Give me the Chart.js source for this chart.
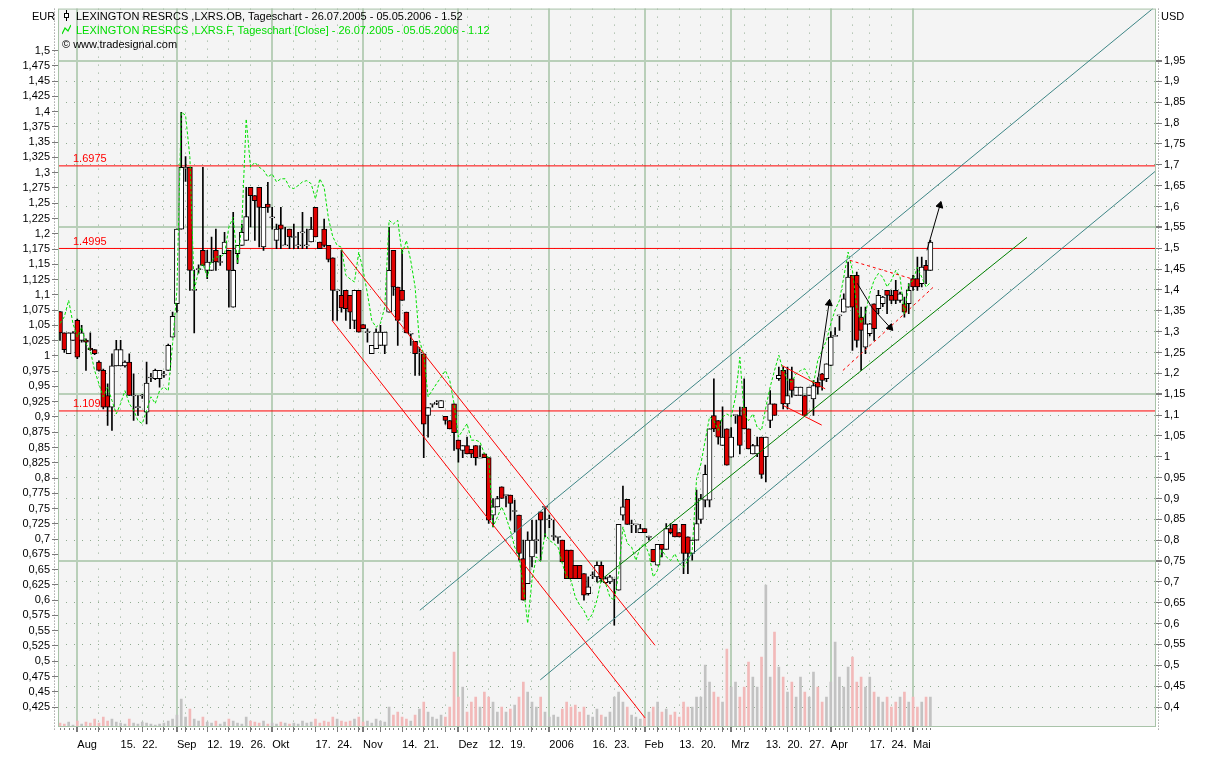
<!DOCTYPE html>
<html>
<head>
<meta charset="utf-8">
<title>LXRS Tageschart</title>
<script src="https://cdn.jsdelivr.net/npm/chart.js@4.4.1/dist/chart.umd.min.js"></script>
<style>
html,body{margin:0;padding:0;background:#fff;}
#box{position:relative;width:1215px;height:760px;overflow:hidden;font:11px "Liberation Sans",Arial,sans-serif;color:#000;}
#c{position:absolute;left:0;top:0;}
.t{position:absolute;white-space:nowrap;line-height:14px;}
.t svg{vertical-align:-1px;margin-right:5px;}
</style>
</head>
<body>
<div id="box">
<canvas id="c" width="1215" height="760"></canvas>
<div class="t" style="left:32px;top:9px">EUR</div>
<div class="t" style="left:1161px;top:9px">USD</div>
<div class="t" style="left:62px;top:9px"><svg width="9" height="11"><line x1="4.5" y1="0" x2="4.5" y2="11" stroke="#000"/><rect x="2.5" y="3.5" width="4" height="4" fill="#fff" stroke="#000"/></svg>LEXINGTON RESRCS ,LXRS.OB, Tageschart - 26.07.2005 - 05.05.2006 - 1.52</div>
<div class="t" style="left:62px;top:23px;color:#00dd00"><svg width="9" height="11"><polyline points="0,10 3,4 6,7 9,1" fill="none" stroke="#00dd00" stroke-width="1.2"/></svg>LEXINGTON RESRCS ,LXRS.F, Tageschart [Close] - 26.07.2005 - 05.05.2006 - 1.12</div>
<div class="t" style="left:62px;top:37px">&copy; www.tradesignal.com</div>
</div>
<script>
const startDate='2005-07-26', endDate='2006-05-05';
const holidays=['2005-12-26','2006-04-14'];

const tickDates=['2005-08-01','2005-08-15','2005-08-22','2005-09-01','2005-09-12','2005-09-19','2005-09-26','2005-10-03','2005-10-17','2005-10-24','2005-11-01','2005-11-14','2005-11-21','2005-12-01','2005-12-12','2005-12-19','2006-01-02','2006-01-16','2006-01-23','2006-02-01','2006-02-13','2006-02-20','2006-03-01','2006-03-13','2006-03-20','2006-03-27','2006-04-03','2006-04-17','2006-04-24','2006-05-01'];
const tickLabels=['Aug','15.','22.','Sep','12.','19.','26.','Okt','17.','24.','Nov','14.','21.','Dez','12.','19.','2006','16.','23.','Feb','13.','20.','Mrz','13.','20.','27.','Apr','17.','24.','Mai'];

// LXRS.OB daily candles, USD
const open=[1.348,1.297,1.247,1.279,1.327,1.279,1.280,1.260,1.257,1.227,
1.207,1.147,1.119,1.218,1.218,1.218,1.227,1.147,1.119,1.147,
1.107,1.190,1.187,1.187,1.197,1.207,1.287,1.367,1.546,1.690,
1.694,1.400,1.450,1.495,1.447,1.447,1.495,1.467,1.487,1.495,
1.359,1.487,1.507,1.519,1.646,1.626,1.646,1.503,1.606,1.574,
1.519,1.556,1.507,1.546,1.527,1.507,1.538,1.507,1.515,1.598,
1.515,1.546,1.507,1.477,1.399,1.387,1.399,1.387,1.327,1.399,
1.317,1.299,1.247,1.259,1.267,1.267,1.347,1.495,1.407,1.399,
1.347,1.295,1.277,1.250,1.247,1.099,1.127,1.130,1.118,1.097,
1.087,1.127,1.040,1.015,1.027,1.018,1.027,0.998,1.007,0.998,
0.860,0.880,0.928,0.908,0.908,0.870,0.860,0.756,0.696,0.760,
0.800,0.868,0.880,0.850,0.810,0.808,0.800,0.776,0.776,0.740,
0.740,0.720,0.672,0.716,0.712,0.740,0.698,0.700,0.708,0.680,
0.860,0.898,0.838,0.838,0.818,0.828,0.808,0.778,0.740,0.790,
0.778,0.828,0.838,0.818,0.838,0.808,0.768,0.800,0.850,0.896,
0.896,1.099,1.087,1.027,1.067,0.999,1.100,1.099,1.119,1.067,
1.007,1.007,1.047,1.000,1.087,1.127,1.187,1.207,1.127,1.187,
1.147,1.147,1.147,1.147,1.139,1.179,1.199,1.187,1.219,1.290,
1.339,1.347,1.359,1.435,1.435,1.335,1.263,1.295,1.367,1.355,
1.367,1.399,1.387,1.399,1.375,1.367,1.367,1.427,1.427,1.415,
1.459,1.447];
const high=[1.348,1.297,1.297,1.300,1.330,1.315,1.283,1.297,1.257,1.230,
1.210,1.175,1.247,1.279,1.279,1.230,1.247,1.199,1.147,1.150,
1.227,1.200,1.210,1.207,1.205,1.270,1.347,1.546,1.826,1.720,
1.694,1.447,1.460,1.694,1.495,1.527,1.546,1.483,1.538,1.495,
1.586,1.507,1.558,1.646,1.646,1.626,1.646,1.598,1.658,1.598,
1.558,1.598,1.550,1.546,1.558,1.538,1.586,1.546,1.574,1.598,
1.515,1.570,1.507,1.477,1.399,1.495,1.399,1.387,1.399,1.399,
1.317,1.307,1.267,1.307,1.315,1.299,1.550,1.495,1.407,1.495,
1.347,1.295,1.277,1.262,1.247,1.118,1.127,1.135,1.135,1.097,
1.087,1.127,1.040,1.027,1.047,1.018,1.027,1.027,1.007,0.998,
0.900,0.905,0.928,0.908,0.908,0.896,0.860,0.800,0.820,0.848,
0.848,0.868,0.880,0.860,0.848,0.808,0.800,0.776,0.776,0.740,
0.740,0.720,0.712,0.724,0.748,0.748,0.712,0.716,0.708,0.838,
0.930,0.898,0.848,0.838,0.838,0.828,0.810,0.778,0.790,0.790,
0.840,0.840,0.838,0.818,0.838,0.808,0.800,0.920,0.910,0.980,
1.067,1.187,1.087,1.120,1.067,1.070,1.100,1.119,1.187,1.067,
1.030,1.047,1.047,1.047,1.159,1.127,1.215,1.215,1.215,1.215,
1.167,1.167,1.147,1.167,1.183,1.190,1.200,1.223,1.300,1.310,
1.339,1.391,1.467,1.435,1.443,1.359,1.359,1.320,1.367,1.399,
1.385,1.399,1.399,1.423,1.395,1.383,1.415,1.435,1.479,1.479,
1.471,1.519];
const low=[1.279,1.250,1.247,1.279,1.235,1.275,1.207,1.255,1.245,1.205,
1.115,1.075,1.063,1.218,1.218,1.215,1.147,1.087,1.099,1.140,
1.079,1.180,1.185,1.167,1.190,1.207,1.287,1.347,1.546,1.660,
1.399,1.297,1.440,1.459,1.427,1.447,1.447,1.459,1.487,1.359,
1.359,1.463,1.507,1.519,1.551,1.519,1.503,1.495,1.586,1.546,
1.499,1.499,1.507,1.499,1.499,1.499,1.499,1.499,1.515,1.527,
1.499,1.503,1.467,1.327,1.327,1.347,1.327,1.307,1.307,1.299,
1.307,1.275,1.247,1.259,1.267,1.247,1.347,1.387,1.267,1.375,
1.297,1.267,1.195,1.195,0.998,1.047,1.119,1.125,1.118,1.078,
1.067,1.015,0.987,0.998,1.007,0.998,0.980,0.998,0.998,0.840,
0.832,0.880,0.900,0.880,0.848,0.820,0.752,0.656,0.696,0.736,
0.768,0.752,0.808,0.830,0.800,0.792,0.748,0.708,0.708,0.708,
0.708,0.656,0.668,0.708,0.700,0.700,0.696,0.696,0.596,0.680,
0.848,0.838,0.818,0.818,0.818,0.818,0.800,0.748,0.740,0.760,
0.778,0.815,0.808,0.808,0.720,0.720,0.752,0.800,0.840,0.880,
0.880,1.060,1.030,1.027,0.980,0.999,1.080,1.007,1.067,1.019,
1.007,1.000,0.948,0.940,1.070,1.099,1.183,1.115,1.115,1.143,
1.147,1.147,1.099,1.147,1.099,1.150,1.160,1.180,1.219,1.290,
1.303,1.347,1.359,1.255,1.263,1.207,1.247,1.290,1.279,1.343,
1.360,1.343,1.367,1.367,1.370,1.335,1.343,1.399,1.399,1.407,
1.415,1.447];
const close=[1.297,1.257,1.297,1.297,1.239,1.297,1.275,1.257,1.247,1.207,
1.119,1.119,1.218,1.257,1.257,1.227,1.147,1.147,1.119,1.147,
1.177,1.190,1.207,1.207,1.197,1.267,1.337,1.546,1.694,1.694,
1.447,1.400,1.450,1.459,1.467,1.467,1.467,1.467,1.515,1.447,
1.447,1.507,1.538,1.576,1.626,1.614,1.598,1.598,1.598,1.574,
1.546,1.546,1.507,1.527,1.527,1.507,1.538,1.507,1.546,1.527,
1.499,1.507,1.473,1.399,1.399,1.357,1.355,1.347,1.399,1.299,
1.307,1.299,1.267,1.299,1.299,1.299,1.447,1.407,1.327,1.375,
1.297,1.295,1.247,1.250,1.078,1.118,1.127,1.130,1.135,1.087,
1.067,1.058,1.018,1.027,1.007,1.007,0.998,0.998,0.998,0.848,
0.880,0.900,0.900,0.908,0.888,0.870,0.768,0.656,0.800,0.800,
0.800,0.848,0.880,0.850,0.810,0.808,0.748,0.708,0.708,0.708,
0.708,0.668,0.688,0.716,0.740,0.708,0.708,0.712,0.708,0.838,
0.880,0.838,0.838,0.838,0.828,0.818,0.808,0.748,0.790,0.778,
0.828,0.818,0.808,0.808,0.768,0.768,0.800,0.840,0.900,0.958,
1.067,1.067,1.047,1.047,0.980,1.047,1.100,1.027,1.067,1.019,
1.027,1.027,0.958,1.047,1.127,1.099,1.195,1.127,1.147,1.159,
1.167,1.167,1.099,1.167,1.171,1.167,1.183,1.223,1.287,1.290,
1.339,1.379,1.431,1.359,1.279,1.303,1.319,1.319,1.307,1.387,
1.383,1.387,1.375,1.375,1.391,1.347,1.399,1.407,1.407,1.455,
1.447,1.515];
// LXRS.F close, EUR
const closeF=[1.053,1.064,1.091,1.053,1.031,1.047,1.020,1.009,0.976,0.954,
0.933,0.949,0.927,0.905,0.922,0.943,0.922,0.911,0.894,0.889,
0.911,0.933,0.922,0.943,0.949,0.943,1.020,1.107,1.399,1.394,
1.325,1.107,1.140,1.151,1.129,1.156,1.162,1.162,1.167,1.211,
1.227,1.151,1.216,1.388,1.309,1.317,1.309,1.304,1.293,1.298,
1.285,1.290,1.290,1.276,1.274,1.279,1.285,1.287,1.282,1.257,
1.290,1.276,1.225,1.195,1.181,1.178,1.132,1.126,1.121,1.170,
1.140,1.102,1.058,1.047,1.053,1.080,1.222,1.216,1.222,1.167,
1.189,1.156,1.113,1.025,1.003,0.933,0.944,0.955,0.965,0.976,
0.960,0.922,0.867,0.878,0.889,0.862,0.862,0.859,0.840,0.833,
0.720,0.736,0.753,0.736,0.714,0.687,0.671,0.622,0.562,0.633,
0.671,0.663,0.709,0.698,0.693,0.687,0.660,0.638,0.633,0.605,
0.592,0.583,0.567,0.578,0.600,0.633,0.627,0.605,0.600,0.643,
0.720,0.693,0.687,0.665,0.687,0.693,0.676,0.638,0.649,0.682,
0.671,0.665,0.676,0.660,0.654,0.665,0.682,0.799,0.823,0.862,
0.900,0.894,0.878,0.900,0.905,0.900,0.933,0.998,0.905,0.894,
0.905,0.883,0.878,0.916,0.949,0.976,1.001,0.976,0.960,0.957,
0.971,0.976,0.979,0.965,0.954,0.993,1.009,1.025,1.053,1.075,
1.091,1.129,1.170,1.140,1.080,1.053,1.069,1.102,1.124,1.135,
1.129,1.113,1.124,1.140,1.129,1.069,1.118,1.124,1.145,1.129,
1.113,1.120];
// volume (thousand shares)
const volume=[4,3,5,2,6,3,5,4,8,4,
10,6,8,5,4,3,8,4,3,5,
4,3,2,3,4,6,8,12,28,10,
18,8,6,10,5,4,6,3,5,8,
6,4,3,10,6,5,4,6,3,4,
3,5,4,3,4,3,6,4,5,8,
4,6,5,10,8,6,5,6,8,10,
5,6,4,8,6,5,20,12,15,10,
8,6,12,18,25,15,10,8,12,10,
20,75,30,40,15,25,30,20,35,30,
25,15,20,15,18,22,30,45,35,25,
20,30,15,10,12,10,18,25,20,22,
15,20,12,10,18,12,10,15,30,35,
25,20,12,10,8,10,15,20,25,15,
18,12,15,10,25,20,20,30,30,62,
45,35,30,25,78,40,45,30,40,65,
50,40,70,142,50,95,60,50,35,45,
30,50,35,30,55,40,25,30,45,85,
50,40,60,70,45,50,40,50,35,30,
25,30,20,25,30,35,25,30,20,25,
30,30];

const levels=[1.6975,1.4995,1.1099];
const levelLabels=['1.6975','1.4995','1.1099'];
const usdMajor=[0.75,1.15,1.55,1.95];

// drawn trend lines: [trading-day index, USD]
const redChannel=[[[65.1,1.495],[137.4,0.548]],[[62.8,1.327],[135.1,0.374]]];
const tealChannel=[[[83.1,0.632],[252.4,2.075]],[[110.9,0.465],[253.1,1.686]]];
const greenMid=[[124.0,0.697],[223.3,1.526]];
const redFlag=[[[166.7,1.219],[176.7,1.163]],[[167.0,1.123],[175.9,1.076]]];
const redTriangle=[[[182.4,1.471],[196.3,1.428]],[[180.8,1.207],[201.6,1.406]]];
const arrows=[[[175.1,1.191],[177.6,1.368]],[[184.1,1.416],[187.5,1.358],[191.7,1.310]],[[200.2,1.495],[203.2,1.603]]];
const arrowTurn=[8,138,16];

function tradingDays(){
  const out=[];
  const d=new Date(startDate+'T12:00:00Z'), end=new Date(endDate+'T12:00:00Z');
  while(d<=end){
    const s=d.toISOString().slice(0,10), wd=d.getUTCDay();
    if(wd>0 && wd<6 && !holidays.includes(s)) out.push(s);
    d.setUTCDate(d.getUTCDate()+1);
  }
  return out;
}
const days=tradingDays();
const dow=s=>new Date(s+'T12:00:00Z').getUTCDay();
const monthStarts=[], weekStarts=[];
for(let i=1;i<days.length;i++){
  if(days[i].slice(5,7)!==days[i-1].slice(5,7)) monthStarts.push(i);
  if(dow(days[i])<dow(days[i-1])) weekStarts.push(i);
}
const monthSet=new Set(monthStarts);
const xTicks=[...new Set(monthStarts.concat(weekStarts))].sort((a,b)=>a-b);
const xLabel={};
tickDates.forEach((d,k)=>{xLabel[days.indexOf(d)]=tickLabels[k];});

const eurTicks=[]; for(let k=17;k<=60;k++) eurTicks.push(k/40);
const usdTicks=[]; for(let k=8;k<=39;k++) usdTicks.push(k/20);
const fmt=v=>String(Math.round(v*1000)/1000).replace('.',',');
const isUsdMajor=v=>usdMajor.some(m=>Math.abs(m-v)<1e-6);

const X_MIN=-0.46, X_MAX=253.1;
const FONT='"Liberation Sans", Arial, sans-serif';
const GRID_SOLID='#b9cfb9', GRID_DOT='#8faa8f';

const bodyData=open.map((o,i)=>{
  let lo=Math.min(o,close[i]), hi=Math.max(o,close[i]);
  if(hi-lo<0.0024){const m=(hi+lo)/2; lo=m-0.0012; hi=m+0.0012;}
  return {x:i,y:[lo,hi]};
});
const isUp=close.map((c,i)=>c>=open[i]);

function seg(pts,color,dash,order){
  return {type:'line',xAxisID:'x',yAxisID:'yUSD',data:pts.map(p=>({x:p[0],y:p[1]})),
    borderColor:color,borderWidth:1,borderDash:dash||[],pointRadius:0,tension:0,order};
}

const datasets=[
  {type:'bar',xAxisID:'x',yAxisID:'yVol',data:volume.map((v,i)=>({x:i,y:v})),grouped:false,
   barThickness:2,backgroundColor:isUp.map(u=>u?'#c2c2c2':'#f2b9b9'),order:20},
  ...levels.map(lv=>seg([[X_MIN,lv],[X_MAX,lv]],'#ff0000',[],15)),
  {type:'bar',xAxisID:'x',yAxisID:'yUSD',data:high.map((h,i)=>({x:i,y:[low[i],h]})),grouped:false,
   barThickness:1,backgroundColor:'#000',order:12},
  {type:'bar',xAxisID:'x',yAxisID:'yUSD',data:bodyData,grouped:false,barThickness:5,
   backgroundColor:isUp.map(u=>u?'#ffffff':'#e00000'),borderColor:'#000',borderWidth:1,borderSkipped:false,order:11},
  {type:'line',xAxisID:'x',yAxisID:'yEUR',data:closeF.map((v,i)=>({x:i,y:v})),borderColor:'#00e000',
   borderWidth:1,borderDash:[3,2],pointRadius:0,tension:0,order:10},
  ...redChannel.map(p=>seg(p,'#ff0000',[],5)),
  ...tealChannel.map(p=>seg(p,'#3d8585',[],5)),
  seg(greenMid,'#008000',[],5),
  ...redFlag.map(p=>seg(p,'#ff0000',[],5)),
  ...redTriangle.map(p=>seg(p,'#ff0000',[3,3],5)),
  ...arrows.map((p,k)=>Object.assign(seg(p,'#000',[],4),{
    pointStyle:'triangle',pointRadius:p.map((q,j)=>j===p.length-1?4:0),
    pointRotation:p.map(()=>arrowTurn[k]),pointBackgroundColor:'#000',pointBorderColor:'#000'}))
];

const deco={
  id:'deco',
  beforeDraw(chart){
    const {ctx,chartArea:a}=chart;
    ctx.save();
    ctx.fillStyle='#ffffff'; ctx.fillRect(0,0,chart.width,chart.height);
    ctx.fillStyle='#f4f4f4'; ctx.fillRect(a.left,a.top,a.right-a.left,a.bottom-a.top);
    ctx.restore();
  },
  beforeDatasetsDraw(chart){
    const {ctx}=chart, yU=chart.scales.yUSD;
    ctx.save();
    ctx.font='11px '+FONT; ctx.fillStyle='#ff0000'; ctx.textBaseline='bottom'; ctx.textAlign='left';
    levels.forEach((lv,k)=>ctx.fillText(levelLabels[k],73,yU.getPixelForValue(lv)-1));
    ctx.restore();
  },
  afterDraw(chart){
    const {ctx,chartArea:a}=chart, xs=chart.scales.x;
    ctx.save();
    ctx.strokeStyle='#a9c3a9'; ctx.lineWidth=1; ctx.setLineDash([]);
    ctx.strokeRect(a.left+0.5,a.top+0.5,a.right-a.left-1,a.bottom-a.top-1);
    ctx.strokeStyle='#7a7a7a'; ctx.setLineDash([1,2]);
    ctx.beginPath();
    ctx.moveTo(a.left-3.5,a.top); ctx.lineTo(a.left-3.5,a.bottom+4);
    ctx.moveTo(a.right+2.5,a.top); ctx.lineTo(a.right+2.5,a.bottom+4);
    ctx.stroke();
    ctx.setLineDash([]);
    ctx.beginPath();
    for(let i=0;i<days.length;i++){
      const px=Math.round(xs.getPixelForValue(i))+0.5;
      ctx.moveTo(px,a.bottom+1); ctx.lineTo(px,a.bottom+3);
    }
    ctx.stroke();
    ctx.restore();
  }
};

new Chart(document.getElementById('c'),{
  type:'bar',
  data:{datasets},
  options:{
    responsive:false,animation:false,devicePixelRatio:1,
    layout:{padding:{top:8,left:0,right:0,bottom:0}},
    plugins:{legend:{display:false},tooltip:{enabled:false}},
    scales:{
      x:{type:'linear',position:'bottom',min:X_MIN,max:X_MAX,offset:false,
        afterFit(s){s.height=33;},
        afterBuildTicks(s){s.ticks=xTicks.map(v=>({value:v}));},
        ticks:{autoSkip:false,maxRotation:0,minRotation:0,align:'start',padding:6,color:'#000',
          font:{size:11,family:FONT},callback:v=>xLabel[v]||''},
        grid:{offset:false,color:c=>c.tick&&monthSet.has(c.tick.value)?GRID_SOLID:GRID_DOT,
          lineWidth:c=>c.tick&&monthSet.has(c.tick.value)?2:1,
          tickColor:'#7a7a7a',tickLength:5},
        border:{display:false,dash:c=>c.tick&&!monthSet.has(c.tick.value)?[1,7]:[]}},
      yEUR:{type:'linear',position:'left',min:0.3923,max:1.5687,
        afterFit(s){s.width=58;},
        afterBuildTicks(s){s.ticks=eurTicks.map(v=>({value:v}));},
        ticks:{autoSkip:false,padding:2,color:'#000',font:{size:11,family:FONT},callback:v=>fmt(v)},
        grid:{drawOnChartArea:false,tickColor:'#7a7a7a',tickLength:6},
        border:{display:false}},
      yUSD:{type:'linear',position:'right',min:0.3521,max:2.0746,
        afterFit(s){s.width=59;},
        afterBuildTicks(s){s.ticks=usdTicks.map(v=>({value:v}));},
        ticks:{autoSkip:false,padding:2,color:'#000',font:{size:11,family:FONT},callback:v=>fmt(v)},
        grid:{color:c=>c.tick&&isUsdMajor(c.tick.value)?GRID_SOLID:GRID_DOT,
          lineWidth:c=>c.tick&&isUsdMajor(c.tick.value)?2:1,
          tickColor:'#7a7a7a',tickLength:6},
        border:{display:false,dash:c=>c.tick&&!isUsdMajor(c.tick.value)?[1,7]:[]}},
      yVol:{type:'linear',display:false,min:0,max:719}
    }
  },
  plugins:[deco]
});
</script>
</body>
</html>
